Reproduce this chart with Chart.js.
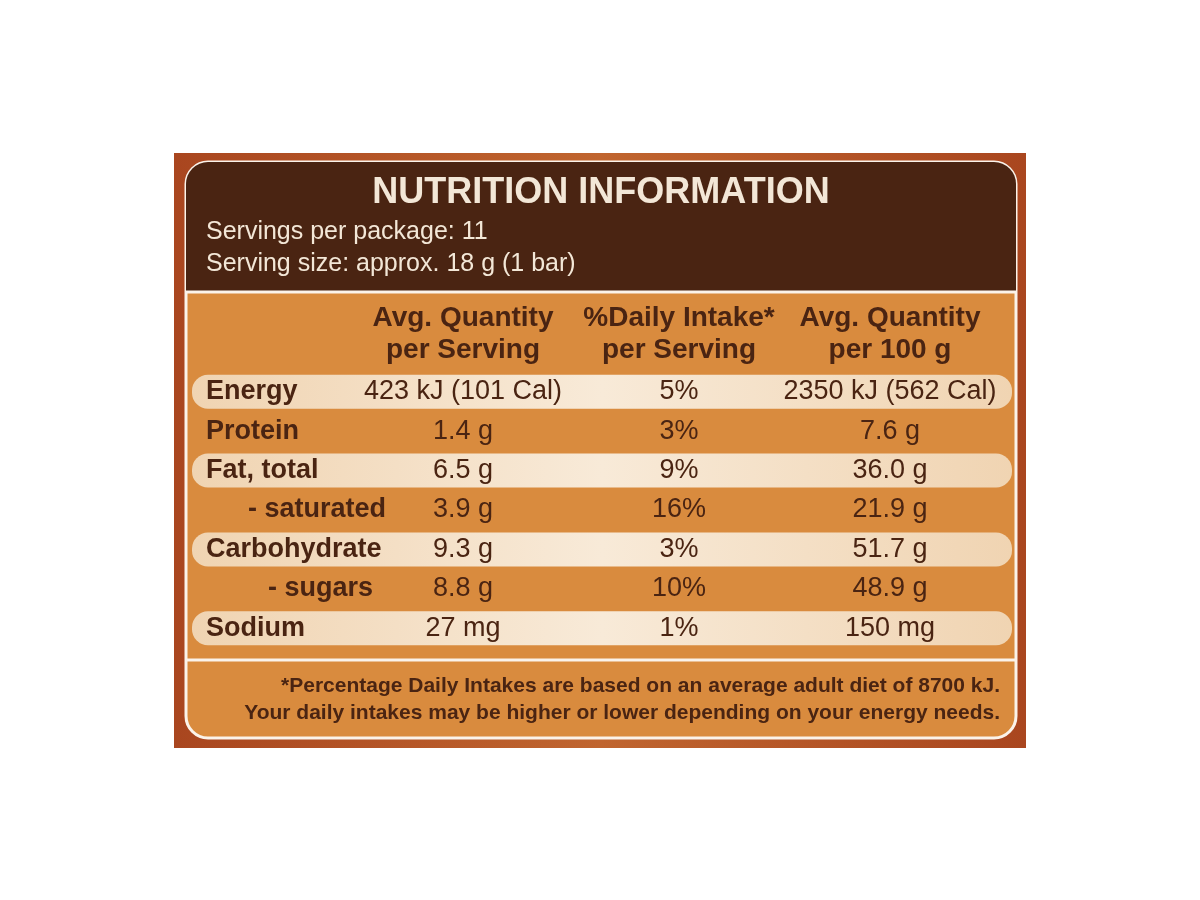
<!DOCTYPE html>
<html>
<head>
<meta charset="utf-8">
<script src="https://cdn.jsdelivr.net/npm/chart.js@4/dist/chart.umd.min.js"></script>
<style>
  body { margin: 0; background: #fff; }
  canvas { display: block; }
</style>
</head>
<body>
<canvas id="label" width="1200" height="900"></canvas>
<script>
// Table contents
const title = 'NUTRITION INFORMATION';
const servingLines = ['Servings per package: 11', 'Serving size: approx. 18 g (1 bar)'];
const columnHeads = [
    ['Avg. Quantity', 'per Serving'],
    ['%Daily Intake*', 'per Serving'],
    ['Avg. Quantity', 'per 100 g']
];
const nutrients = ['Energy', 'Protein', 'Fat, total', '- saturated', 'Carbohydrate', '- sugars', 'Sodium'];
const perServing = ['423 kJ (101 Cal)', '1.4 g', '6.5 g', '3.9 g', '9.3 g', '8.8 g', '27 mg'];
const dailyIntake = ['5%', '3%', '9%', '16%', '3%', '10%', '1%'];
const per100g = ['2350 kJ (562 Cal)', '7.6 g', '36.0 g', '21.9 g', '51.7 g', '48.9 g', '150 mg'];
const footnote = [
    '*Percentage Daily Intakes are based on an average adult diet of 8700 kJ.',
    'Your daily intakes may be higher or lower depending on your energy needs.'
];
// light bands on every other row
const bandRows = [[0, 1], null, [0, 1], null, [0, 1], null, [0, 1]];

const colors = {
    frame: '#b8592b',
    header: '#4a2412',
    orange: '#d98b3e',
    band: '#f4dfc3',
    text: '#4a2412',
    cream: '#f3e7d7'
};
const font = '"Liberation Sans Narrow", "Liberation Sans", Arial, sans-serif';

function roundRect(ctx, x, y, w, h, r) {
    ctx.beginPath();
    ctx.roundRect(x, y, w, h, r);
}

const labelBackground = {
    id: 'labelBackground',
    beforeDraw(chart) {
        const ctx = chart.ctx;
        ctx.save();
        const g = ctx.createLinearGradient(174, 0, 1026, 0);
        g.addColorStop(0, '#a9461f');
        g.addColorStop(0.5, '#c0652f');
        g.addColorStop(1, '#a9461f');
        ctx.fillStyle = g;
        ctx.fillRect(174, 153, 852, 595);
        // white rounded border
        roundRect(ctx, 186, 162, 830, 576, 22);
        ctx.fillStyle = colors.orange;
        ctx.fill();
        ctx.lineWidth = 3;
        ctx.strokeStyle = '#fbf3ea';
        ctx.stroke();
        // header
        ctx.save();
        roundRect(ctx, 186, 162, 830, 576, 22);
        ctx.clip();
        ctx.fillStyle = colors.header;
        ctx.fillRect(186, 162, 830, 130);
        ctx.restore();
        ctx.beginPath();
        ctx.moveTo(186, 292); ctx.lineTo(1016, 292);
        ctx.moveTo(186, 660); ctx.lineTo(1016, 660);
        ctx.stroke();
        ctx.restore();
    }
};

const labelText = {
    id: 'labelText',
    afterDraw(chart) {
        const ctx = chart.ctx;
        const y = chart.scales.y;
        ctx.save();
        ctx.textBaseline = 'middle';
        ctx.fillStyle = colors.cream;
        ctx.textAlign = 'center';
        ctx.font = 'bold 36px "Liberation Sans", Arial, sans-serif';
        ctx.fillText(title, 601, 193);
        ctx.textAlign = 'left';
        ctx.font = '25px "Liberation Sans", Arial, sans-serif';
        servingLines.forEach((s, i) => ctx.fillText(s, 206, 232 + i * 32));

        ctx.fillStyle = colors.text;
        ctx.textAlign = 'center';
        ctx.font = 'bold 28px ' + font;
        const centers = [463, 679, 890];
        columnHeads.forEach((h, c) => {
            h.forEach((line, k) => ctx.fillText(line, centers[c], 318 + k * 32));
        });

        nutrients.forEach((n, i) => {
            const py = y.getPixelForValue(i);
            ctx.textAlign = 'left';
            ctx.font = 'bold 27px ' + font;
            const sub = n.startsWith('-');
            ctx.fillText(n, sub ? (n.length > 9 ? 248 : 268) : 206, py);
            ctx.textAlign = 'center';
            ctx.font = '27px ' + font;
            ctx.fillText(perServing[i], centers[0], py);
            ctx.fillText(dailyIntake[i], centers[1], py);
            ctx.fillText(per100g[i], centers[2], py);
        });

        ctx.font = 'bold 21px ' + font;
        ctx.textAlign = 'right';
        footnote.forEach((l, i) => ctx.fillText(l, 1000, 686 + i * 27));
        ctx.restore();
    }
};

new Chart(document.getElementById('label'), {
    type: 'bar',
    data: {
        labels: nutrients,
        datasets: [{
            data: bandRows,
            backgroundColor: function(context) {
                const area = context.chart.chartArea;
                if (!area) return colors.band;
                const g = context.chart.ctx.createLinearGradient(area.left, 0, area.right, 0);
                g.addColorStop(0, '#f0d4b2');
                g.addColorStop(0.5, '#f8ead8');
                g.addColorStop(1, '#f0d4b2');
                return g;
            },
            borderSkipped: false,
            borderRadius: 16,
            barPercentage: 0.86,
            categoryPercentage: 1
        }]
    },
    options: {
        indexAxis: 'y',
        responsive: false,
        animation: false,
        layout: { padding: { left: 192, right: 188, top: 372, bottom: 252 } },
        plugins: { legend: { display: false }, tooltip: { enabled: false } },
        scales: {
            x: { display: false, min: 0, max: 1 },
            y: { display: false }
        }
    },
    plugins: [labelBackground, labelText]
});
</script>
</body>
</html>
